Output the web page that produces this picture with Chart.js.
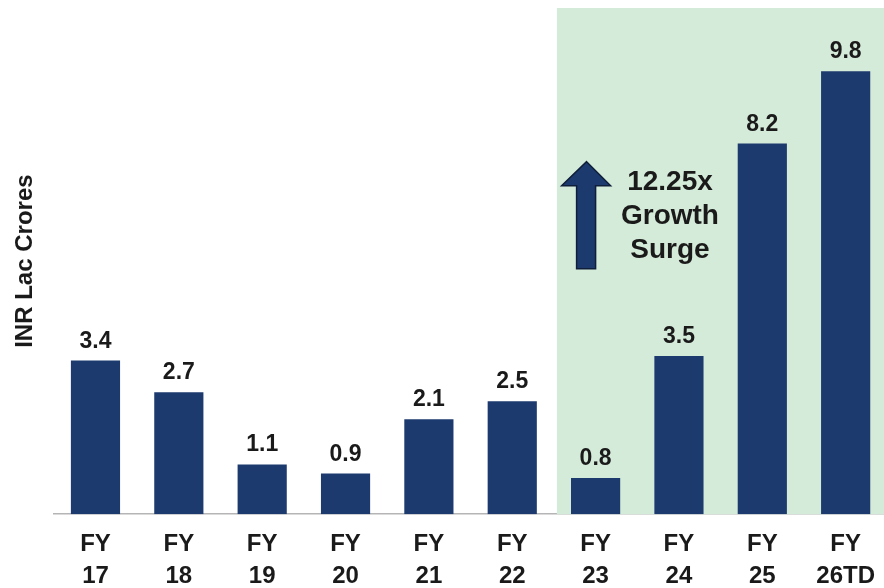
<!DOCTYPE html>
<html lang="en">
<head>
<meta charset="UTF-8">
<title>INR Lac Crores by Fiscal Year</title>
<script src="https://cdn.jsdelivr.net/npm/chart.js"></script>
<style>
  html, body { margin: 0; padding: 0; background: #fff; overflow: hidden; }
  #wrap { width: 889px; height: 607px; }
</style>
</head>
<body>
<div id="wrap"><canvas id="growthChart"></canvas></div>
<script>
// Fiscal years (two-line tick labels) and values
const yearLabels = [["FY", "17"], ["FY", "18"], ["FY", "19"], ["FY", "20"], ["FY", "21"],
                    ["FY", "22"], ["FY", "23"], ["FY", "24"], ["FY", "25"], ["FY", "26TD"]];
const lacCrores = [3.4, 2.7, 1.1, 0.9, 2.1, 2.5, 0.8, 3.5, 8.2, 9.8];
const surgeStart = 6;              // first year of the highlighted period
const surgeText = ["12.25x", "Growth", "Surge"];

const NAVY = "#1c3a6e";
const TEXT = "#1a1a1a";
const NARROW = "'Liberation Sans Narrow', 'Liberation Sans', Arial, sans-serif";
const SANS = "'Liberation Sans', Arial, sans-serif";

// green band behind the surge years
const highlightBand = {
  id: "highlightBand",
  beforeDatasetsDraw(chart) {
    const { ctx, chartArea, scales: { x } } = chart;
    const left = (x.getPixelForValue(surgeStart - 1) + x.getPixelForValue(surgeStart)) / 2 + 3;
    ctx.save();
    ctx.fillStyle = "#d5ebd9";
    ctx.fillRect(left, chartArea.top, chartArea.right - left, chartArea.bottom - chartArea.top);
    ctx.restore();
  }
};

// value labels over the bars
const valueLabels = {
  id: "valueLabels",
  afterDatasetsDraw(chart) {
    const { ctx } = chart;
    const meta = chart.getDatasetMeta(0);
    ctx.save();
    ctx.font = "bold 23px " + SANS;
    ctx.fillStyle = TEXT;
    ctx.textAlign = "center";
    ctx.textBaseline = "alphabetic";
    meta.data.forEach((bar, i) => {
      ctx.fillText(lacCrores[i].toFixed(1), bar.x, bar.y - 13);
    });
    ctx.restore();
  }
};

// up arrow and growth callout
const surgeCallout = {
  id: "surgeCallout",
  afterDatasetsDraw(chart) {
    const { ctx, scales: { x, y } } = chart;
    const cx = x.getPixelForValue(surgeStart) - 9;
    const tip = y.getPixelForValue(7.8);
    const base = y.getPixelForValue(5.43);
    const neck = tip + 24;
    ctx.save();
    ctx.beginPath();
    ctx.moveTo(cx, tip);
    ctx.lineTo(cx + 24, neck);
    ctx.lineTo(cx + 9, neck);
    ctx.lineTo(cx + 9, base);
    ctx.lineTo(cx - 10, base);
    ctx.lineTo(cx - 10, neck);
    ctx.lineTo(cx - 25, neck);
    ctx.closePath();
    ctx.fillStyle = NAVY;
    ctx.fill();
    ctx.strokeStyle = "#0f1f3a";
    ctx.lineWidth = 1.5;
    ctx.stroke();

    const tx = x.getPixelForValue(surgeStart + 1) - 9;
    ctx.font = "bold 28px " + SANS;
    ctx.fillStyle = TEXT;
    ctx.textAlign = "center";
    ctx.textBaseline = "alphabetic";
    surgeText.forEach((line, i) => {
      ctx.fillText(line, tx, tip + 28 + i * 34);
    });
    ctx.restore();
  }
};

new Chart(document.getElementById("growthChart"), {
  type: "bar",
  data: {
    labels: yearLabels,
    datasets: [{
      data: lacCrores,
      backgroundColor: NAVY,
      barPercentage: 0.59,
      categoryPercentage: 1.0
    }]
  },
  options: {
    responsive: true,
    maintainAspectRatio: false,
    animation: false,
    layout: { padding: { top: 8, right: 0, left: 0, bottom: 0 } },
    plugins: {
      legend: { display: false },
      tooltip: { enabled: false }
    },
    scales: {
      x: {
        grid: { display: false, drawTicks: false },
        border: { display: true, color: "#b5b5b5", width: 1.5 },
        ticks: {
          color: TEXT,
          font: { family: NARROW, size: 24, weight: "bold", lineHeight: 1.35 },
          padding: 14,
          maxRotation: 0,
          autoSkip: false
        }
      },
      y: {
        min: 0,
        max: 11.2,
        grid: { display: false, drawTicks: false },
        border: { display: false },
        ticks: { display: false },
        title: {
          display: true,
          text: "INR Lac Crores",
          color: TEXT,
          font: { family: NARROW, size: 24, weight: "bold" },
          padding: { top: 11, bottom: 14 }
        }
      }
    }
  },
  plugins: [highlightBand, valueLabels, surgeCallout]
});
</script>
</body>
</html>
